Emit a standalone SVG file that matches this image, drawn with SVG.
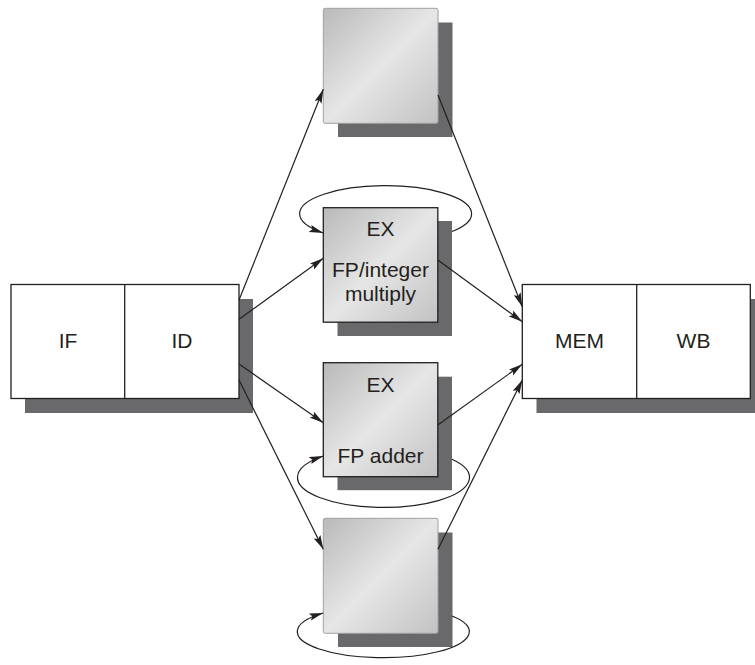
<svg xmlns="http://www.w3.org/2000/svg" width="755" height="665" viewBox="0 0 755 665">
<style>
.shadow{fill:#69696c}
.stage{fill:#ffffff;stroke:#231f20;stroke-width:1.3}
.unit{fill:url(#g);stroke:#231f20;stroke-width:1.3}
.plain{fill:url(#g);stroke:#a0a0a0;stroke-width:1}
.lbl{font-family:"Liberation Sans",Arial,sans-serif;font-size:21px;fill:#231f20;text-anchor:middle}
.conn{fill:none;stroke:#231f20;stroke-width:1.2;marker-end:url(#ah)}
</style>
<defs>
<linearGradient id="g" x1="0" y1="0" x2="1" y2="1">
<stop offset="0" stop-color="#b9b9b9"/>
<stop offset="0.5" stop-color="#e6e6e6"/>
<stop offset="1" stop-color="#c2c2c2"/>
</linearGradient>
<marker id="ah" viewBox="0 0 14 8" refX="14" refY="4" markerWidth="14" markerHeight="8" markerUnits="userSpaceOnUse" orient="auto">
<path d="M0,0.3 L14,4 L0,7.7 L2.5,4 z" fill="#231f20"/>
</marker>
</defs>
<g id="ifid">
<rect class="shadow" x="25" y="299" width="228" height="114"/>
<rect class="stage" x="11" y="284.5" width="228" height="114"/>
<line x1="124.7" y1="284.5" x2="124.7" y2="398.5" stroke="#231f20" stroke-width="1.3"/>
<text class="lbl" x="68" y="348">IF</text>
<text class="lbl" x="182" y="348">ID</text>
</g>
<g id="memwb">
<rect class="shadow" x="536.5" y="299" width="228" height="114"/>
<rect class="stage" x="522.3" y="284.5" width="228" height="114"/>
<line x1="636.7" y1="284.5" x2="636.7" y2="398.5" stroke="#231f20" stroke-width="1.3"/>
<text class="lbl" x="579.5" y="348">MEM</text>
<text class="lbl" x="693.5" y="348">WB</text>
</g>
<g id="unit-top">
<rect class="shadow" x="338" y="22.5" width="114.5" height="114.5"/>
<rect class="plain" x="323.3" y="8.3" width="114.7" height="115" rx="2"/>
</g>
<g id="ex-mult">
<rect class="shadow" x="337.5" y="221" width="114.5" height="115"/>
<rect class="unit" x="323.3" y="207.7" width="114.5" height="114.5"/>
<text class="lbl" x="380.5" y="236">EX</text>
<text class="lbl" x="380.5" y="277">FP/integer</text>
<text class="lbl" x="380.5" y="300.5">multiply</text>
</g>
<g id="ex-add">
<rect class="shadow" x="337.5" y="376.7" width="114.5" height="113.5"/>
<rect class="unit" x="323.3" y="362.7" width="114.5" height="114"/>
<text class="lbl" x="380.5" y="391.7">EX</text>
<text class="lbl" x="380.5" y="462.7">FP adder</text>
</g>
<g id="unit-bottom">
<rect class="shadow" x="338" y="532.5" width="114.5" height="114.5"/>
<rect class="plain" x="323.3" y="518.3" width="114.7" height="115" rx="2"/>
</g>
<g id="connectors">
<path class="conn" d="M239,300 L323.3,89.3"/>
<path class="conn" d="M239,319.3 L323.3,258.3"/>
<path class="conn" d="M239,364 L323.3,422.7"/>
<path class="conn" d="M239,380 L323.3,549.3"/>
<path class="conn" d="M438,95 L522.3,306.7"/>
<path class="conn" d="M437.8,260 L522.3,321.7"/>
<path class="conn" d="M437.8,425 L522.3,364.3"/>
<path class="conn" d="M438,549.3 L522.3,380"/>
<path class="conn" d="M452,231.5 A86,28 0 1 0 323.3,233"/>
<path class="conn" d="M452,459.3 A86,30 0 1 1 323.3,456"/>
<path class="conn" d="M452,616 A86,26 0 1 1 323.3,613"/>
</g>
</svg>
